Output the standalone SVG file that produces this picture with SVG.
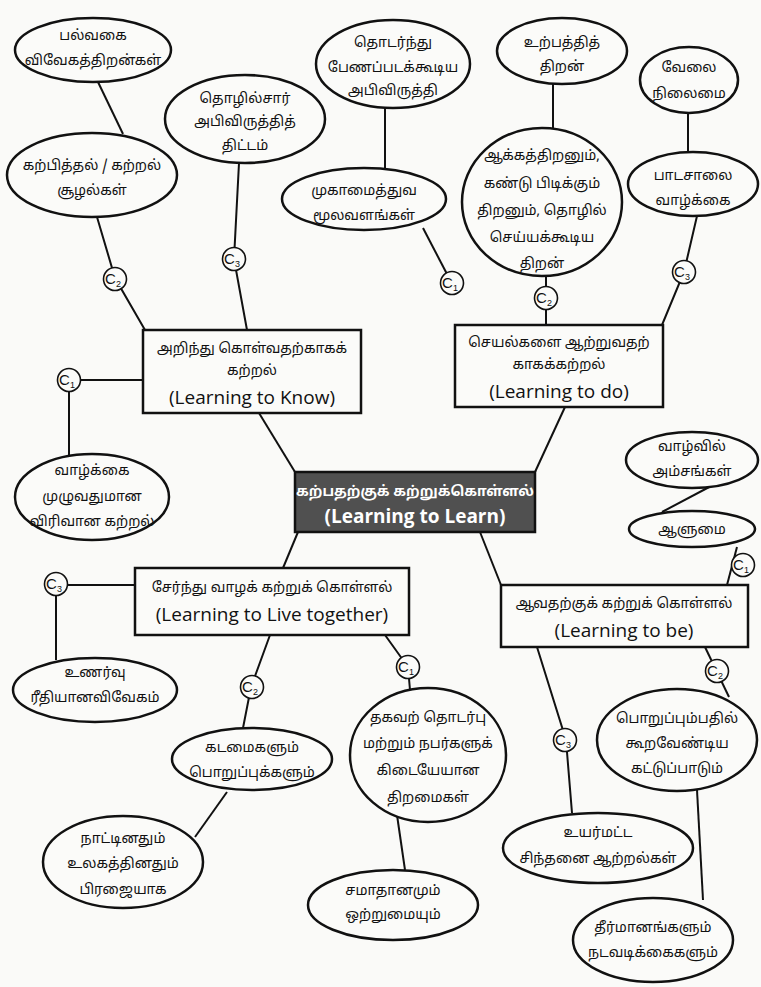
<svg xmlns="http://www.w3.org/2000/svg" width="761" height="987" viewBox="0 0 761 987">
<style>
.bg{fill:#fafaf8}
.el{fill:#fbfbf9;stroke:#111;stroke-width:2.5}
.bx{fill:#fbfbf9;stroke:#111;stroke-width:2.5}
.cx{fill:#505050;stroke:#111;stroke-width:2.5}
.ln{stroke:#111;stroke-width:2;fill:none}
.cc{fill:#fbfbf9;stroke:#111;stroke-width:1.6}
.t{font-family:"Noto Sans Tamil","Noto Sans","DejaVu Sans",sans-serif;font-size:14px;fill:#111;text-anchor:middle}
.e{font-family:"Open Sans","Noto Sans",sans-serif;font-size:19px;fill:#111;text-anchor:middle}
.w{fill:#fff}
.c{font-family:"Liberation Sans",sans-serif;font-size:15px;fill:#111;text-anchor:middle}
.s{font-size:9px}
</style>
<rect class="bg" x="0" y="0" width="761" height="987"/>

<g id="connectors">
<line class="ln" x1="295" y1="472" x2="259" y2="413"/>
<line class="ln" x1="535" y1="472" x2="565" y2="407"/>
<line class="ln" x1="298" y1="532" x2="283" y2="568"/>
<line class="ln" x1="480" y1="532" x2="501" y2="585"/>
<line class="ln" x1="98" y1="82" x2="123" y2="134"/>
<polyline class="ln" points="97,217 115,278 145,330"/>
<polyline class="ln" points="239,163 234,259 247,330"/>
<polyline class="ln" points="143,380 69,380 69,455"/>
<line class="ln" x1="385" y1="108" x2="385" y2="168"/>
<line class="ln" x1="423" y1="228" x2="448" y2="276"/>
<line class="ln" x1="553" y1="83" x2="553" y2="128"/>
<line class="ln" x1="546" y1="275" x2="546" y2="325"/>
<line class="ln" x1="688" y1="113" x2="688" y2="152"/>
<polyline class="ln" points="697,216 684,272 662,325"/>
<line class="ln" x1="727" y1="585" x2="737" y2="547"/>
<line class="ln" x1="662" y1="512" x2="713" y2="485"/>
<line class="ln" x1="705" y1="647" x2="729" y2="697"/>
<polyline class="ln" points="537,647 566,740 572,813"/>
<line class="ln" x1="697" y1="790" x2="703" y2="900"/>
<polyline class="ln" points="135,585 56,585 56,660"/>
<polyline class="ln" points="270,635 251,687 243,728"/>
<line class="ln" x1="227" y1="792" x2="195" y2="837"/>
<polyline class="ln" points="385,635 408,667 410,690"/>
<line class="ln" x1="397" y1="815" x2="405" y2="870"/>
</g>

<g id="c-labels">
<g><circle class="cc" cx="115" cy="279" r="11.5"/><text class="c" x="113" y="284">C<tspan class="s" dy="3">2</tspan></text></g>
<g><circle class="cc" cx="234" cy="259" r="11.5"/><text class="c" x="232" y="264">C<tspan class="s" dy="3">3</tspan></text></g>
<g><circle class="cc" cx="69" cy="380" r="11.5"/><text class="c" x="67" y="385">C<tspan class="s" dy="3">1</tspan></text></g>
<g><circle class="cc" cx="452" cy="283" r="11.5"/><text class="c" x="450" y="288">C<tspan class="s" dy="3">1</tspan></text></g>
<g><circle class="cc" cx="546" cy="298" r="11.5"/><text class="c" x="544" y="303">C<tspan class="s" dy="3">2</tspan></text></g>
<g><circle class="cc" cx="684" cy="272" r="11.5"/><text class="c" x="682" y="277">C<tspan class="s" dy="3">3</tspan></text></g>
<g><circle class="cc" cx="743" cy="565" r="11.5"/><text class="c" x="741" y="570">C<tspan class="s" dy="3">1</tspan></text></g>
<g><circle class="cc" cx="717" cy="671" r="11.5"/><text class="c" x="715" y="676">C<tspan class="s" dy="3">2</tspan></text></g>
<g><circle class="cc" cx="565" cy="740" r="11.5"/><text class="c" x="563" y="745">C<tspan class="s" dy="3">3</tspan></text></g>
<g><circle class="cc" cx="408" cy="667" r="11.5"/><text class="c" x="406" y="672">C<tspan class="s" dy="3">1</tspan></text></g>
<g><circle class="cc" cx="252" cy="687" r="11.5"/><text class="c" x="250" y="692">C<tspan class="s" dy="3">2</tspan></text></g>
<g><circle class="cc" cx="56" cy="584" r="11.5"/><text class="c" x="54" y="589">C<tspan class="s" dy="3">3</tspan></text></g>
</g>

<g id="center">
<rect class="cx" x="295" y="472" width="240" height="60"/>
<text class="t w" x="415" y="496" font-weight="bold">கற்பதற்குக் கற்றுக்கொள்ளல்</text>
<text class="e w" x="415" y="523" font-weight="bold" font-size="20">(Learning to Learn)</text>
</g>

<g id="know">
<rect class="bx" x="143" y="330" width="218" height="83"/>
<text class="t" x="252" y="353">அறிந்து கொள்வதற்காகக்</text>
<text class="t" x="252" y="375">கற்றல்</text>
<text class="e" x="252" y="404">(Learning to Know)</text>
</g>

<g id="do">
<rect class="bx" x="455" y="325" width="208" height="82"/>
<text class="t" x="559" y="347">செயல்களை ஆற்றுவதற்</text>
<text class="t" x="559" y="369">காகக்கற்றல்</text>
<text class="e" x="559" y="398">(Learning to do)</text>
</g>

<g id="live">
<rect class="bx" x="135" y="568" width="274" height="67"/>
<text class="t" x="272" y="592">சேர்ந்து வாழக் கற்றுக் கொள்ளல்</text>
<text class="e" x="272" y="621">(Learning to Live together)</text>
</g>

<g id="be">
<rect class="bx" x="501" y="585" width="247" height="62"/>
<text class="t" x="624" y="608">ஆவதற்குக் கற்றுக் கொள்ளல்</text>
<text class="e" x="624" y="637">(Learning to be)</text>
</g>

<g id="n1"><ellipse class="el" cx="93" cy="50" rx="78" ry="32"/>
<text class="t" x="93" y="40">பல்வகை</text><text class="t" x="93" y="65">விவேகத்திறன்கள்</text></g>

<g id="n2"><ellipse class="el" cx="92" cy="175" rx="85" ry="42"/>
<text class="t" x="92" y="170">கற்பித்தல் / கற்றல்</text><text class="t" x="92" y="195">சூழல்கள்</text></g>

<g id="n3"><ellipse class="el" cx="245" cy="119" rx="80" ry="44"/>
<text class="t" x="245" y="103">தொழில்சார்</text><text class="t" x="245" y="126">அபிவிருத்தித்</text><text class="t" x="245" y="150">திட்டம்</text></g>

<g id="n4"><ellipse class="el" cx="393" cy="64" rx="77" ry="44"/>
<text class="t" x="393" y="47">தொடர்ந்து</text><text class="t" x="393" y="72">பேணப்படக்கூடிய</text><text class="t" x="393" y="95">அபிவிருத்தி</text></g>

<g id="n5"><ellipse class="el" cx="364" cy="199" rx="82" ry="31"/>
<text class="t" x="364" y="195">முகாமைத்துவ</text><text class="t" x="364" y="220">மூலவளங்கள்</text></g>

<g id="n6"><ellipse class="el" cx="562" cy="51" rx="65" ry="33"/>
<text class="t" x="562" y="47">உற்பத்தித்</text><text class="t" x="562" y="71">திறன்</text></g>

<g id="n7"><ellipse class="el" cx="542" cy="202" rx="80" ry="74"/>
<text class="t" x="542" y="160">ஆக்கத்திறனும்,</text><text class="t" x="542" y="188">கண்டு பிடிக்கும்</text><text class="t" x="542" y="215">திறனும், தொழில்</text><text class="t" x="542" y="242">செய்யக்கூடிய</text><text class="t" x="542" y="268">திறன்</text></g>

<g id="n8"><ellipse class="el" cx="689" cy="80" rx="49" ry="33"/>
<text class="t" x="689" y="72">வேலை</text><text class="t" x="689" y="98">நிலைமை</text></g>

<g id="n9"><ellipse class="el" cx="693" cy="184" rx="65" ry="32"/>
<text class="t" x="693" y="180">பாடசாலை</text><text class="t" x="693" y="205">வாழ்க்கை</text></g>

<g id="n10"><ellipse class="el" cx="92" cy="497" rx="77" ry="43"/>
<text class="t" x="92" y="475">வாழ்க்கை</text><text class="t" x="92" y="501">முழுவதுமான</text><text class="t" x="92" y="526">விரிவான கற்றல்</text></g>

<g id="n11"><ellipse class="el" cx="95" cy="690" rx="82" ry="32"/>
<text class="t" x="95" y="677">உணர்வு</text><text class="t" x="95" y="702">ரீதியானவிவேகம்</text></g>

<g id="n12"><ellipse class="el" cx="252" cy="759" rx="80" ry="31"/>
<text class="t" x="252" y="752">கடமைகளும்</text><text class="t" x="252" y="777">பொறுப்புக்களும்</text></g>

<g id="n13"><ellipse class="el" cx="123" cy="862" rx="80" ry="46"/>
<text class="t" x="123" y="843">நாட்டினதும்</text><text class="t" x="123" y="868">உலகத்தினதும்</text><text class="t" x="123" y="894">பிரஜையாக</text></g>

<g id="n14"><ellipse class="el" cx="428" cy="755" rx="78" ry="67"/>
<text class="t" x="428" y="722">தகவற் தொடர்பு</text><text class="t" x="428" y="748">மற்றும் நபர்களுக்</text><text class="t" x="428" y="775">கிடையேயான</text><text class="t" x="428" y="802">திறமைகள்</text></g>

<g id="n15"><ellipse class="el" cx="393" cy="905" rx="85" ry="35"/>
<text class="t" x="393" y="895">சமாதானமும்</text><text class="t" x="393" y="919">ஒற்றுமையும்</text></g>

<g id="n16"><ellipse class="el" cx="692" cy="460" rx="66" ry="28"/>
<text class="t" x="692" y="451">வாழ்வில்</text><text class="t" x="692" y="476">அம்சங்கள்</text></g>

<g id="n17"><ellipse class="el" cx="692" cy="529" rx="63" ry="18"/>
<text class="t" x="692" y="534">ஆளுமை</text></g>

<g id="n18"><ellipse class="el" cx="677" cy="740" rx="80" ry="51"/>
<text class="t" x="677" y="723">பொறுப்பும்பதில்</text><text class="t" x="677" y="748">கூறவேண்டிய</text><text class="t" x="677" y="773">கட்டுப்பாடும்</text></g>

<g id="n19"><ellipse class="el" cx="598" cy="848" rx="95" ry="35"/>
<text class="t" x="598" y="837">உயர்மட்ட</text><text class="t" x="598" y="863">சிந்தனை ஆற்றல்கள்</text></g>

<g id="n20"><ellipse class="el" cx="653" cy="940" rx="80" ry="42"/>
<text class="t" x="653" y="932">தீர்மானங்களும்</text><text class="t" x="653" y="957">நடவடிக்கைகளும்</text></g>
</svg>
